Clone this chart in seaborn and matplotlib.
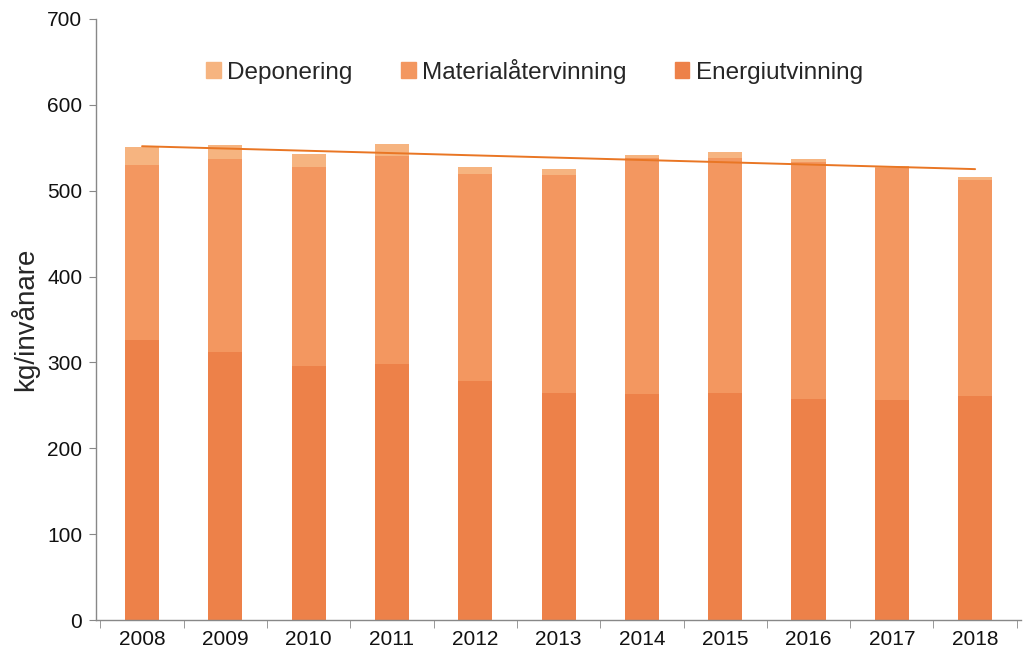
import numpy as np
import pandas as pd
import matplotlib
matplotlib.use("Agg")
import matplotlib.pyplot as plt
from matplotlib.patches import Patch
import seaborn as sns

years = ["2008", "2009", "2010", "2011", "2012", "2013", "2014", "2015", "2016", "2017", "2018"]
energi = [326, 312, 296, 298, 278, 264, 263, 265, 258, 256, 261]
material = [204, 225, 232, 242, 241, 254, 275, 273, 275, 270, 251]
deponering = [21, 16, 15, 14, 8, 7, 3, 7, 4, 3, 4]

c_energi = "#ED8149"
c_material = "#F39760"
c_depon = "#F6B480"
c_trend = "#E97624"

df = pd.DataFrame({"year": years, "energi": energi,
                   "material": material, "deponering": deponering})
df["mat_top"] = df["energi"] + df["material"]
df["total"] = df["mat_top"] + df["deponering"]
df["pos"] = np.arange(len(df))

sns.set_style("white")
plt.rcParams["font.family"] = ["Liberation Sans", "DejaVu Sans"]

fig, ax = plt.subplots(figsize=(10.24, 6.67), dpi=100)
fig.subplots_adjust(left=0.094, right=0.997, top=0.972, bottom=0.07)

# stacked bars: draw cumulative layers from the top down
bar_kw = dict(saturation=1, width=0.41, linewidth=0, ax=ax)
sns.barplot(data=df, x="year", y="total", color=c_depon, **bar_kw)
sns.barplot(data=df, x="year", y="mat_top", color=c_material, **bar_kw)
sns.barplot(data=df, x="year", y="energi", color=c_energi, **bar_kw)

# linear trend of totals
sns.regplot(data=df, x="pos", y="total", scatter=False, ci=None, ax=ax,
            line_kws={"color": c_trend, "lw": 1.4})

ax.set_ylim(0, 700)
ax.set_xlim(-0.55, 10.55)
ax.set_yticks(range(0, 701, 100))
ax.set_xlabel("")
ax.set_ylabel("kg/invånare", fontsize=20, labelpad=6)
ax.tick_params(axis="both", labelsize=15, colors="#111111")
ax.tick_params(axis="x", which="major", length=0, pad=7)
ax.set_xticks(np.arange(-0.5, 11, 1), minor=True)
ax.tick_params(axis="x", which="minor", length=6, color="#888888", direction="out")
ax.tick_params(axis="y", length=5, color="#888888", direction="out", pad=5)
ax.xaxis.set_ticks_position("bottom")
ax.yaxis.set_ticks_position("left")
for side in ["top", "right"]:
    ax.spines[side].set_visible(False)
for side in ["left", "bottom"]:
    ax.spines[side].set_color("#888888")
    ax.spines[side].set_linewidth(1)

handles = [Patch(color=c_depon, label="Deponering"),
           Patch(color=c_material, label="Materialåtervinning"),
           Patch(color=c_energi, label="Energiutvinning")]
ax.legend(handles=handles, loc="upper center", bbox_to_anchor=(0.474, 0.97), ncol=3,
          frameon=False, fontsize=17.5, handlelength=0.6, handleheight=0.6,
          handletextpad=0.25, columnspacing=2.0)

plt.savefig("out.png", dpi=100)
plt.close()
